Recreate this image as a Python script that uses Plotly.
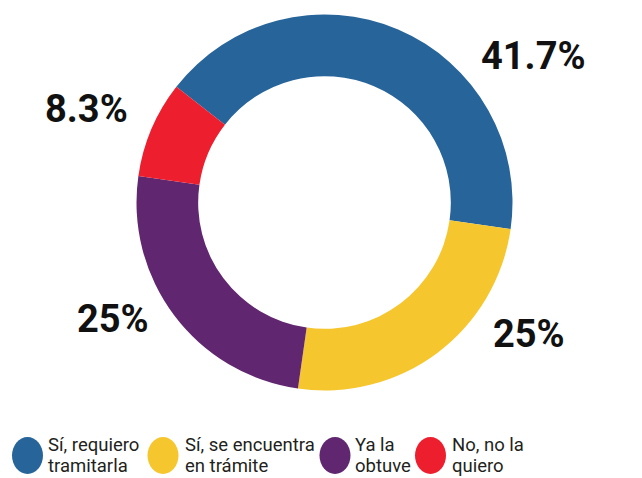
import plotly.graph_objects as go

W, H = 642, 478

categories = ["Sí, requiero|tramitarla", "Sí, se encuentra|en trámite", "Ya la|obtuve", "No, no la|quiero"]
values = [41.7, 25, 25, 8.3]
colors = ["#27649A", "#F6C62E", "#60266F", "#ED1F2E"]

# label centers (pixels) for the percentage labels
label_px = [(533.5, 55), (529, 332.5), (112.5, 317.5), (86.5, 108)]
# legend layout (pixels)
legend_circle_x = [27.5, 163, 335, 430.5]
legend_text_x = [46, 183, 353, 450]
legend_y = 455.5
legend_line_y = [445.0, 466.0]

cx, cy, r = 324.5, 202.5, 188

fig = go.Figure(go.Pie(
    labels=[c.replace("|", " ") for c in categories],
    values=values,
    hole=0.672,
    sort=False,
    direction="clockwise",
    rotation=-52,
    marker=dict(colors=colors, line=dict(width=0)),
    textinfo="none",
    hoverinfo="label+percent",
    showlegend=False,
    domain=dict(x=[(cx - r) / W, (cx + r) / W], y=[(H - cy - r) / H, (H - cy + r) / H]),
))

def fmt(v):
    return (f"{v:g}") + "%"

font_fam = "Roboto"
annotations = []
for v, (px, py) in zip(values, label_px):
    annotations.append(dict(
        x=px / W, y=1 - (py + 1) / H, xref="paper", yref="paper",
        text=fmt(v), showarrow=False, xanchor="center", yanchor="middle",
        font=dict(family=font_fam, size=38, color="#111111", weight=700),
    ))

shapes = []
for c, lx, tx, lab in zip(colors, legend_circle_x, legend_text_x, categories):
    shapes.append(dict(
        type="circle", xref="paper", yref="paper",
        x0=(lx - 15.5) / W, x1=(lx + 15.5) / W,
        y0=1 - (legend_y + 18.5) / H, y1=1 - (legend_y - 18.5) / H,
        fillcolor=c, line=dict(width=0),
    ))
    for line, ly in zip(lab.split("|"), legend_line_y):
        annotations.append(dict(
            x=tx / W, y=1 - ly / H, xref="paper", yref="paper",
            text=line, showarrow=False, xanchor="left", yanchor="middle", align="left",
            font=dict(family=font_fam, size=18.5, color="#231F20"),
        ))

fig.update_layout(
    width=W, height=H,
    margin=dict(l=0, r=0, t=0, b=0),
    paper_bgcolor="white", plot_bgcolor="white",
    annotations=annotations, shapes=shapes,
)

fig.write_html("out.html", config={"displayModeBar": False},
               post_script="document.body.style.margin='0';document.body.style.padding='0';")
